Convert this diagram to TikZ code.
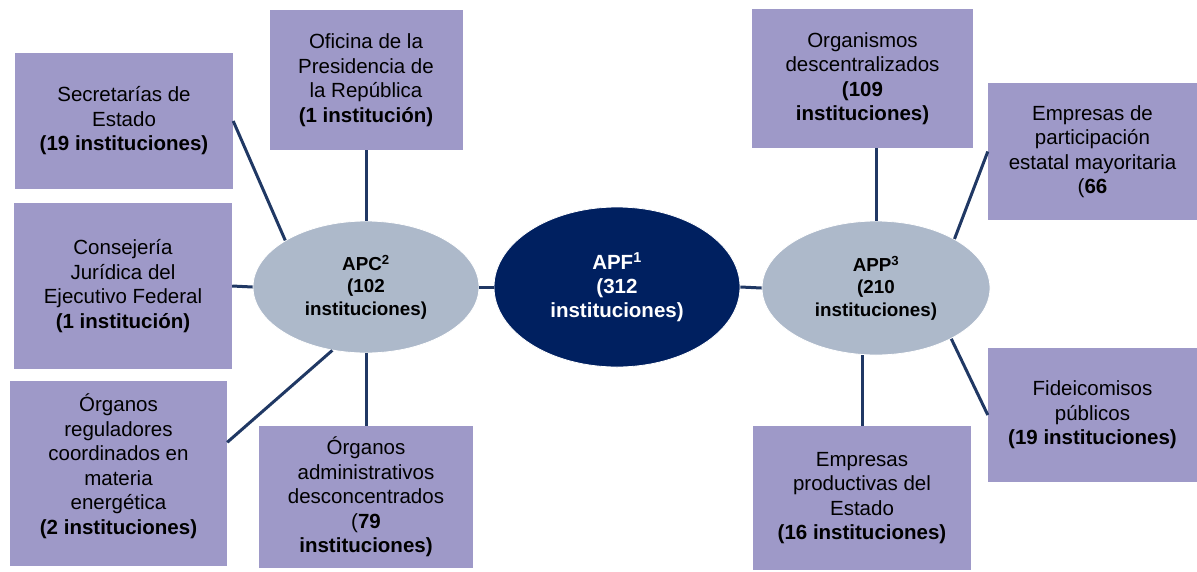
\documentclass[tikz,border=0pt]{standalone}
\usepackage{fontspec}
\setmainfont{Liberation Sans}
\usetikzlibrary{shapes.geometric}

\definecolor{boxlila}{HTML}{9E99C8}
\definecolor{elgris}{HTML}{ADB9CA}
\definecolor{navy}{HTML}{002060}
\definecolor{linea}{HTML}{203864}

\begin{document}
\begin{tikzpicture}[x=1pt,y=-1pt,
    inst/.style={rectangle,fill=boxlila,inner sep=0pt,align=center,
        font=\fontsize{20.5}{24.5}\selectfont},
    sector/.style={ellipse,fill=elgris,draw=white,line width=0.8pt,inner sep=0pt,
        align=center,font=\fontsize{18.8}{22.5}\selectfont\bfseries},
    enlace/.style={draw=linea,line width=3pt}]
                \useasboundingbox (0,0) rectangle (1197,571);

                % centro
                \node[sector,fill=navy,text=white,minimum width=246,minimum height=160,
                    font=\fontsize{20.5}{24}\selectfont\bfseries]
                    (apf) at (617,287) {APF\textsuperscript{1}\\(312\\instituciones)};
                \node[sector,minimum width=226,minimum height=132]
                    (apc) at (366,287) {APC\textsuperscript{2}\\(102\\instituciones)};
                \node[sector,minimum width=228,minimum height=134]
                    (app) at (876,288) {APP\textsuperscript{3}\\(210\\instituciones)};

                % APC
                \node[inst,minimum width=218,minimum height=136] (secretarias) at (124,121)
                    {Secretarías de\\Estado\\\textbf{(19 instituciones)}};
                \node[inst,minimum width=193,minimum height=140] (oficina) at (366,80)
                    {Oficina de la\\Presidencia de\\la República\\\textbf{(1 institución)}};
                \node[inst,minimum width=218,minimum height=166] (consejeria) at (123,286)
                    {Consejería\\Jurídica del\\Ejecutivo Federal\\\textbf{(1 institución)}};
                \node[inst,minimum width=217,minimum height=185] (reguladores) at (118.5,473.5)
                    {Órganos\\reguladores\\coordinados en\\materia\\energética\\\textbf{(2 instituciones)}\\[-6pt]\mbox{}};
                \node[inst,minimum width=214,minimum height=142] (desconc) at (366,497)
                    {Órganos\\administrativos\\desconcentrados\\(\textbf{79}\\\textbf{instituciones)}};

                % APP
                \node[inst,minimum width=221,minimum height=139] (organismos) at (862.5,78.5)
                    {Organismos\\descentralizados\\\textbf{(109}\\\textbf{instituciones)}};
                \node[inst,minimum width=209,minimum height=137] (empresas) at (1092.5,151.5)
                    {Empresas de\\participación\\estatal mayoritaria\\(\textbf{66}};
                \node[inst,minimum width=209,minimum height=134] (fideicomisos) at (1092.5,415)
                    {Fideicomisos\\públicos\\\textbf{(19 instituciones)}};
                \node[inst,minimum width=218,minimum height=144] (productivas) at (862,498)
                    {Empresas\\productivas del\\Estado\\\textbf{(16 instituciones)}};

                % enlaces
                \draw[enlace] (apc.east) -- (apf.west);
                \draw[enlace] (apf.east) -- (app.west);
                \draw[enlace] (secretarias.east) -- (apc.150);
                \draw[enlace] (oficina.south) -- (apc.north);
                \draw[enlace] (consejeria.east) -- (apc.west);
                \draw[enlace] (reguladores.16) -- (apc.242);
                \draw[enlace] (desconc.north) -- (apc.south);
                \draw[enlace] (app.north) -- (app.north |- organismos.south);
                \draw[enlace] (empresas.west) -- (app.32);
                \draw[enlace] (fideicomisos.west) -- (app.-34);
                \draw[enlace] (productivas.north) -- (productivas.north |- app.south);
            \end{tikzpicture}
\end{document}
